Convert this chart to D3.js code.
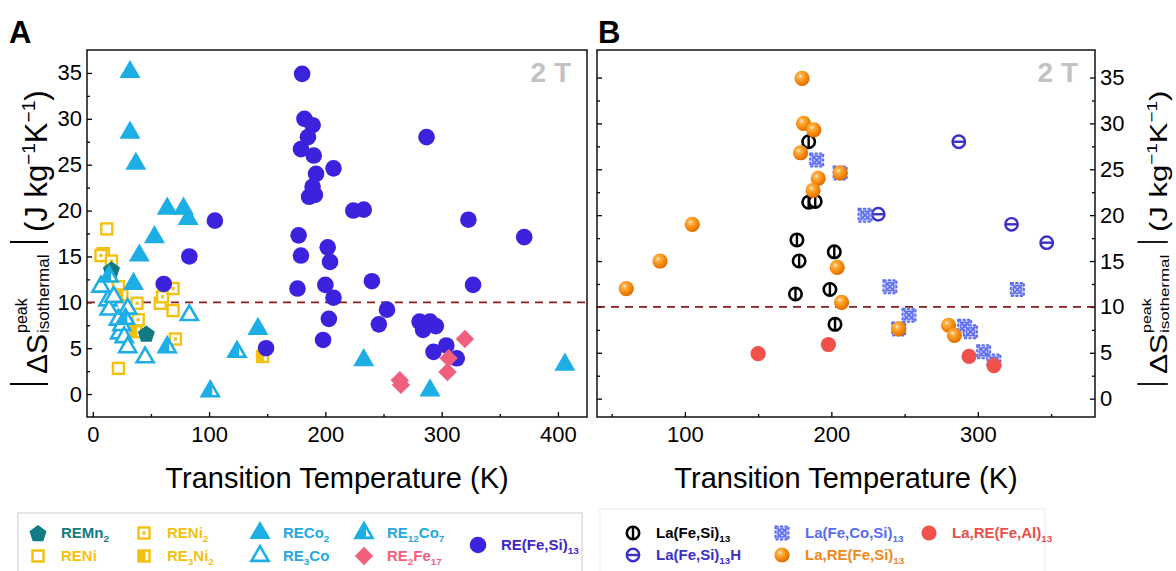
<!DOCTYPE html>
<html>
<head>
<meta charset="utf-8">
<title>Transition temperature vs entropy change</title>
<script src="https://d3js.org/d3.v7.min.js"></script>
<style>
  body{margin:0;background:#fff;}
  text{font-family:Arial,"Liberation Sans",sans-serif;}
</style>
</head>
<body>
<script>
// ---------- panel A data (T in K, |dS| in J/kg/K) ----------
var reMn2T = [16, 46];
var reMn2S = [13.6, 6.6];
var reNiT = [12, 22, 9, 22, 58, 69];
var reNiS = [18.0, 2.8, 15.3, 11.7, 9.9, 9.1];
var reNi2T = [7, 16, 38, 60, 69, 71, 39];
var reNi2S = [15.1, 14.5, 9.9, 10.6, 11.5, 6.0, 8.1];
var re3Ni2T = [25, 37, 146];
var re3Ni2S = [10.8, 6.8, 4.1];
var reCo2T = [32, 32, 37, 64, 78, 82, 53, 40, 35, 142, 233, 290, 406];
var reCo2S = [35.1, 28.5, 25.1, 20.2, 20.2, 19.1, 17.1, 15.1, 12.0, 7.1, 3.7, 0.4, 3.2];
var re3CoT = [7, 13, 14, 18, 22, 23, 25, 27, 30, 30, 45, 83];
var re3CoS = [11.7, 10.2, 9.2, 10.6, 8.1, 6.6, 7.5, 6.2, 9.3, 5.1, 4.0, 8.6];
var re12Co7T = [14, 28, 64, 101, 124];
var re12Co7S = [12.8, 8.2, 5.1, 0.3, 4.6];
var re2Fe17T = [264, 265, 305, 306, 320];
var re2Fe17S = [1.5, 1.0, 2.4, 3.9, 6.0];
var reFeSiT = [105, 83, 61, 149, 180, 182, 189, 185, 179, 190, 207, 192, 189, 186, 191, 224, 233, 323, 177, 202,
               179, 204, 240, 327, 176, 200, 207, 253, 203, 246, 281, 284, 290, 295, 198, 293, 304, 313, 287, 371];
var reFeSiS = [18.9, 15.0, 12.0, 5.0, 34.9, 30.0, 29.3, 28.0, 26.7, 26.0, 24.6, 24.0, 22.6, 21.5, 21.7, 20.0, 20.1, 19.0, 17.3, 16.0,
               15.1, 14.4, 12.3, 11.9, 11.5, 11.9, 10.5, 9.2, 8.2, 7.6, 7.9, 7.0, 7.9, 7.4, 5.9, 4.6, 5.3, 3.9, 28.0, 17.1];

// ---------- panel B data ----------
var laFeSiT = [184.5, 184.5, 189, 176.5, 178, 175.5, 202, 199, 202.5];
var laFeSiS = [28.0, 21.4, 21.5, 17.3, 15.0, 11.4, 16.0, 11.9, 8.1];
var laFeSiHT = [287, 232, 323, 347];
var laFeSiHS = [28.0, 20.1, 19.0, 17.0];
var laFeCoSiT = [190, 206, 223, 240, 246, 253, 291, 295, 304, 311, 327];
var laFeCoSiS = [26.0, 24.6, 20.0, 12.2, 7.6, 9.1, 7.9, 7.3, 5.1, 4.1, 11.9];
var laReFeAlT = [150, 198, 294, 311];
var laReFeAlS = [4.9, 5.9, 4.6, 3.6];
var laReFeSiT = [180, 181, 188, 179, 206, 191, 187.5, 105, 83, 60, 204, 207, 246, 280, 284];
var laReFeSiS = [34.9, 30.0, 29.3, 26.8, 24.6, 24.0, 22.7, 19.0, 15.0, 12.0, 14.3, 10.5, 7.6, 8.0, 6.9];

var xMajorA = [0, 100, 200, 300, 400], xMinorA = [50, 150, 250, 350];
var xMajorB = [100, 200, 300], xMinorB = [50, 150, 250, 350];
var yMajor = [0, 5, 10, 15, 20, 25, 30, 35], yMinor = [2.5, 7.5, 12.5, 17.5, 22.5, 27.5, 32.5];
var threshold = 10;

var C = {teal:"#117A82", yel:"#F3C10E", cyan:"#1DAEE6", pink:"#F0607E", blue:"#3B22DC",
         hBlue:"#3A2FC8", coBlue:"#5B6CF0", red:"#F0524B", orange:"#F5890C"};

var width = 1176, height = 571;
var svg = d3.select("body").append("svg").attr("width", width).attr("height", height)
            .style("background", "#fff");

var defs = svg.append("defs");
var grad = defs.append("radialGradient").attr("id", "ball").attr("cx", "38%").attr("cy", "35%").attr("r", "65%");
grad.append("stop").attr("offset", "0%").attr("stop-color", "#FFF1DC");
grad.append("stop").attr("offset", "22%").attr("stop-color", "#FFB247");
grad.append("stop").attr("offset", "65%").attr("stop-color", "#F58A0C");
grad.append("stop").attr("offset", "100%").attr("stop-color", "#DF6D00");

// ---------- marker shapes ----------
function triPath(s) {
  var h = s * Math.sqrt(3) / 2;
  return "M0," + (-2 * h / 3) + "L" + (s / 2) + "," + (h / 3) + "L" + (-s / 2) + "," + (h / 3) + "Z";
}
var shapes = {
  pentagon: function (g) {
    var pts = d3.range(5).map(function (k) { var a = -Math.PI / 2 + k * 2 * Math.PI / 5; return [9 * Math.cos(a), 9 * Math.sin(a) + 1]; });
    g.append("path").attr("d", "M" + pts.join("L") + "Z").attr("fill", C.teal);
  },
  openSq: function (g) {
    g.append("rect").attr("x", -5.5).attr("y", -5.5).attr("width", 11).attr("height", 11)
      .attr("fill", "#fff").attr("stroke", C.yel).attr("stroke-width", 2.4);
  },
  dotSq: function (g) {
    shapes.openSq(g);
    g.append("rect").attr("x", -1.6).attr("y", -1.6).attr("width", 3.2).attr("height", 3.2).attr("fill", C.yel);
  },
  halfSq: function (g) {
    shapes.openSq(g);
    g.append("rect").attr("x", -5.5).attr("y", -5.5).attr("width", 7).attr("height", 11).attr("fill", C.yel);
  },
  triFilled: function (g) {
    g.append("path").attr("d", triPath(21)).attr("fill", C.cyan);
  },
  triOpen: function (g) {
    g.append("path").attr("d", triPath(17)).attr("fill", "#fff").attr("stroke", C.cyan).attr("stroke-width", 2.6);
  },
  triHalf: function (g) {
    var s = 17, h = s * Math.sqrt(3) / 2;
    g.append("path").attr("d", triPath(s)).attr("fill", "#fff").attr("stroke", C.cyan).attr("stroke-width", 2.6);
    g.append("path").attr("d", "M0," + (-2 * h / 3) + "L" + (-s / 2) + "," + (h / 3) + "L2," + (h / 3) + "L2," + (-2 * h / 3 + 3) + "Z")
      .attr("fill", C.cyan);
  },
  diamond: function (g) {
    g.append("rect").attr("x", -6.5).attr("y", -6.5).attr("width", 13).attr("height", 13)
      .attr("transform", "rotate(45)").attr("fill", C.pink);
  },
  circle: function (g) {
    g.append("circle").attr("r", 8.3).attr("fill", C.blue);
  },
  phi: function (g) {
    g.append("circle").attr("r", 6.2).attr("fill", "#fff").attr("stroke", "#000").attr("stroke-width", 2.6);
    g.append("line").attr("y1", -6.2).attr("y2", 6.2).attr("stroke", "#000").attr("stroke-width", 2.4);
  },
  theta: function (g) {
    g.append("circle").attr("r", 6.2).attr("fill", "#fff").attr("stroke", C.hBlue).attr("stroke-width", 2.4);
    g.append("line").attr("x1", -6.2).attr("x2", 6.2).attr("stroke", C.hBlue).attr("stroke-width", 2.4);
  },
  coSq: function (g) {
    g.append("rect").attr("x", -6.5).attr("y", -6.5).attr("width", 13).attr("height", 13)
      .attr("fill", "#C3CAFB").attr("stroke", C.coBlue).attr("stroke-width", 2).attr("stroke-dasharray", "3,1.5");
    g.append("path").attr("d", "M-5,-5L5,5M5,-5L-5,5").attr("stroke", C.coBlue).attr("stroke-width", 1.6);
    g.append("circle").attr("r", 4).attr("fill", "none").attr("stroke", C.coBlue).attr("stroke-width", 1.5);
  },
  redDot: function (g) {
    g.append("circle").attr("r", 7.6).attr("fill", C.red);
  },
  ball: function (g) {
    g.append("circle").attr("r", 7.6).attr("fill", "url(#ball)");
  }
};

function drawSeries(layer, x, y, T, S, kind) {
  var pts = T.map(function (t, i) { return {t: t, s: S[i]}; });
  layer.append("g").selectAll("g").data(pts).join("g")
    .attr("transform", function (d) { return "translate(" + x(d.t) + "," + y(d.s) + ")"; })
    .each(function () { shapes[kind](d3.select(this)); });
}

// ---------- axes / frames ----------
function styleAxis(sel) {
  sel.select(".domain").remove();
  sel.selectAll("line").attr("stroke", "#000").attr("stroke-width", 1.3);
  sel.selectAll("text").filter(function () { return this.textContent === ""; }).remove();
  sel.selectAll("text").style("font-size", "22px").style("font-family", "Arial, 'Liberation Sans', sans-serif").attr("fill", "#000");
}
function panel(x, y, xMajor, xMinor, leftLabels, rightLabels) {
  var xr = x.range(), yr = y.range();
  var g = svg.append("g");
  g.append("g").attr("transform", "translate(0," + yr[0] + ")")
    .call(d3.axisBottom(x).tickValues(xMajor).tickSize(-5).tickPadding(9)).call(styleAxis);
  g.append("g").attr("transform", "translate(0," + yr[0] + ")")
    .call(d3.axisBottom(x).tickValues(xMinor).tickSize(-3).tickFormat("")).call(styleAxis);
  g.append("g").attr("transform", "translate(" + xr[0] + ",0)")
    .call(d3.axisLeft(y).tickValues(yMajor).tickSize(-5).tickPadding(5).tickFormat(leftLabels ? d3.format("d") : "")).call(styleAxis);
  g.append("g").attr("transform", "translate(" + xr[0] + ",0)")
    .call(d3.axisLeft(y).tickValues(yMinor).tickSize(-3).tickFormat("")).call(styleAxis);
  if (rightLabels) {
    g.append("g").attr("transform", "translate(" + xr[1] + ",0)")
      .call(d3.axisRight(y).tickValues(yMajor).tickSize(-5).tickPadding(5).tickFormat(d3.format("d"))).call(styleAxis);
    g.append("g").attr("transform", "translate(" + xr[1] + ",0)")
      .call(d3.axisRight(y).tickValues(yMinor).tickSize(-3).tickFormat("")).call(styleAxis);
  }
  g.append("line").attr("x1", xr[0]).attr("x2", xr[1]).attr("y1", y(threshold)).attr("y2", y(threshold))
    .attr("stroke", "#8B1C1C").attr("stroke-width", 1.8).attr("stroke-dasharray", "8,6");
  return g;
}
function frame(x, y) {
  var xr = x.range(), yr = y.range();
  svg.append("rect").attr("x", xr[0]).attr("y", yr[1]).attr("width", xr[1] - xr[0]).attr("height", yr[0] - yr[1])
    .attr("fill", "none").attr("stroke", "#111").attr("stroke-width", 1.5);
}

var xA = d3.scaleLinear().domain([-5, 425]).range([87, 587]);
var yA = d3.scaleLinear().domain([-2.5, 37.5]).range([417, 50]);
var xB = d3.scaleLinear().domain([40, 380]).range([597, 1095]);
var yB = d3.scaleLinear().domain([-2, 38]).range([417, 50]);

var gA = panel(xA, yA, xMajorA, xMinorA, true, false);
drawSeries(gA, xA, yA, reNiT, reNiS, "openSq");
drawSeries(gA, xA, yA, reNi2T, reNi2S, "dotSq");
drawSeries(gA, xA, yA, re3Ni2T, re3Ni2S, "halfSq");
drawSeries(gA, xA, yA, reMn2T, reMn2S, "pentagon");
drawSeries(gA, xA, yA, reCo2T, reCo2S, "triFilled");
drawSeries(gA, xA, yA, re3CoT, re3CoS, "triOpen");
drawSeries(gA, xA, yA, re12Co7T, re12Co7S, "triHalf");
drawSeries(gA, xA, yA, reFeSiT, reFeSiS, "circle");
drawSeries(gA, xA, yA, re2Fe17T, re2Fe17S, "diamond");
frame(xA, yA);

var gB = panel(xB, yB, xMajorB, xMinorB, false, true);
drawSeries(gB, xB, yB, laFeSiT, laFeSiS, "phi");
drawSeries(gB, xB, yB, laFeSiHT, laFeSiHS, "theta");
drawSeries(gB, xB, yB, laFeCoSiT, laFeCoSiS, "coSq");
drawSeries(gB, xB, yB, laReFeAlT, laReFeAlS, "redDot");
drawSeries(gB, xB, yB, laReFeSiT, laReFeSiS, "ball");
frame(xB, yB);

// ---------- texts ----------
svg.append("text").attr("x", 9).attr("y", 43).style("font-size", "31px").style("font-weight", "bold").text("A");
svg.append("text").attr("x", 598).attr("y", 43).style("font-size", "31px").style("font-weight", "bold").text("B");
[[xA, 571], [xB, 1078]].forEach(function (p) {
  svg.append("text").attr("x", p[1]).attr("y", 82).attr("text-anchor", "end")
    .style("font-size", "28px").style("font-weight", "bold").attr("fill", "#C2C2C2").text("2 T");
  var r = p[0].range();
  svg.append("text").attr("x", (r[0] + r[1]) / 2).attr("y", 488).attr("text-anchor", "middle")
    .style("font-size", "29px").text("Transition Temperature (K)");
});

function yTitle(transform) {
  var g = svg.append("g").attr("transform", transform);
  [-146, -4].forEach(function (p) {
    g.append("line").attr("x1", p).attr("x2", p).attr("y1", -37).attr("y2", 1).attr("stroke", "#000").attr("stroke-width", 1.8);
  });
  g.append("text").attr("x", -136).attr("y", 0).style("font-size", "30px").text("ΔS");
  g.append("text").attr("x", -95).attr("y", -20).style("font-size", "16px").text("peak");
  g.append("text").attr("x", -95).attr("y", 2).style("font-size", "17px").text("isothermal");
  var t = g.append("text").attr("x", 6).attr("y", 0).style("font-size", "31px");
  t.append("tspan").text("(J kg");
  t.append("tspan").attr("dy", -12).style("font-size", "19px").text("−1");
  t.append("tspan").attr("dy", 12).text("K");
  t.append("tspan").attr("dy", -12).style("font-size", "19px").text("−1");
  t.append("tspan").attr("dy", 12).text(")");
}
yTitle("translate(47,238) rotate(-90)");
yTitle("translate(1167,238) rotate(-90) scale(1,0.8)");

// ---------- legends ----------
function richText(g, x, y, str, color, size) {
  var t = g.append("text").attr("x", x).attr("y", y).attr("fill", color)
    .style("font-size", size + "px").style("font-weight", "bold");
  var shifted = false;
  str.split(/(_\{[^}]*\})/).forEach(function (part) {
    if (!part) return;
    if (part.charAt(0) === "_") {
      t.append("tspan").attr("dy", shifted ? 0 : 4).style("font-size", (size * 0.66) + "px").text(part.slice(2, -1));
      shifted = true;
    } else {
      t.append("tspan").attr("dy", shifted ? -4 : 0).text(part);
      shifted = false;
    }
  });
}
var legA = [
  {k: "pentagon", s: "REMn_{2}", c: C.teal, x: 38, y: 533},
  {k: "openSq", s: "RENi", c: C.yel, x: 38, y: 556},
  {k: "dotSq", s: "RENi_{2}", c: C.yel, x: 144, y: 533},
  {k: "halfSq", s: "RE_{3}Ni_{2}", c: C.yel, x: 144, y: 556},
  {k: "triFilled", s: "RECo_{2}", c: "#25A8E0", x: 260, y: 533},
  {k: "triOpen", s: "RE_{3}Co", c: "#25A8E0", x: 260, y: 556},
  {k: "triHalf", s: "RE_{12}Co_{7}", c: "#25A8E0", x: 364, y: 533},
  {k: "diamond", s: "RE_{2}Fe_{17}", c: C.pink, x: 364, y: 556},
  {k: "circle", s: "RE(Fe,Si)_{13}", c: "#3D27C9", x: 478, y: 545}
];
var legB = [
  {k: "phi", s: "La(Fe,Si)_{13}", c: "#000", x: 633, y: 533},
  {k: "theta", s: "La(Fe,Si)_{13}H", c: C.hBlue, x: 633, y: 555},
  {k: "coSq", s: "La(Fe,Co,Si)_{13}", c: C.coBlue, x: 782, y: 533},
  {k: "ball", s: "La,RE(Fe,Si)_{13}", c: "#F08A1A", x: 782, y: 555},
  {k: "redDot", s: "La,RE(Fe,Al)_{13}", c: "#E8504A", x: 929, y: 533}
];
svg.append("rect").attr("x", 18).attr("y", 513).attr("width", 564).attr("height", 62)
  .attr("fill", "none").attr("stroke", "#D6D6D6").attr("stroke-width", 1.2);
svg.append("rect").attr("x", 600).attr("y", 509).attr("width", 445).attr("height", 66)
  .attr("fill", "none").attr("stroke", "#EEEEEE").attr("stroke-width", 1.2);
var lg = svg.append("g");
legA.concat(legB).forEach(function (d) {
  var s = lg.append("g").attr("transform", "translate(" + d.x + "," + d.y + ")");
  shapes[d.k](s);
  richText(lg, d.x + 23, d.y + 5, d.s, d.c, 15);
});
</script>
</body>
</html>
